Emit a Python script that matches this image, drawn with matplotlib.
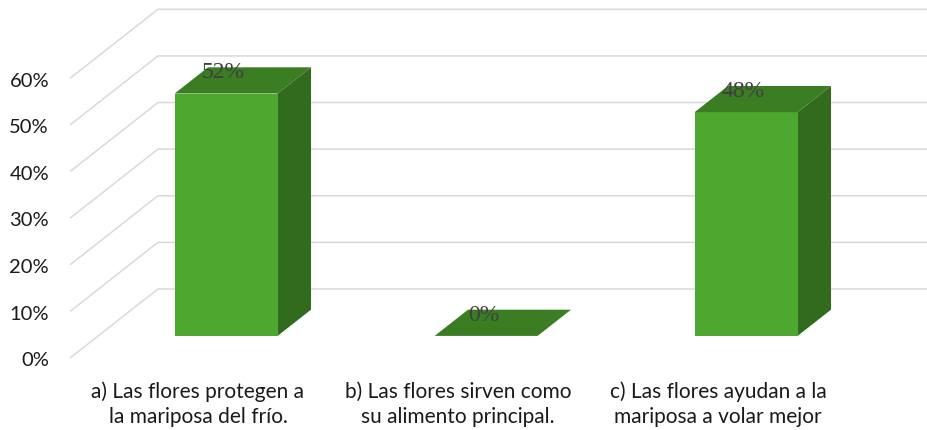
import matplotlib.pyplot as plt
from matplotlib.patches import Polygon

plt.rcParams["font.serif"] = ["Liberation Serif", "Times New Roman", "DejaVu Serif"]

categories = ["a) Las flores protegen a\nla mariposa del frío.",
              "b) Las flores sirven como\nsu alimento principal.",
              "c) Las flores ayudan a la\nmariposa a volar mejor"]
values = [52, 0, 48]
value_labels = ["52%", "0%", "48%"]
ticks = [0, 10, 20, 30, 40, 50, 60]
tick_labels = ["0%", "10%", "20%", "30%", "40%", "50%", "60%"]

# oblique projection of the 3D box: depth d in [0, 1]
DX, DY = 0.338, 14.8
BAR_W = 0.396
D0, D1 = 0.32, 0.70
WALL_X = -0.492

FRONT = "#4ea72e"
TOP = "#3a7d22"
SIDE = "#336b1e"
GRID = "#d9d9d9"


def proj(x, v, d):
    return (x + d * DX, v + d * DY)


fig = plt.figure(figsize=(9.28, 4.3), dpi=100)
ax = fig.add_axes([0, 0, 1, 1])
ax.set_xlim(-0.7615, 2.8077)
ax.set_ylim(-15.45, 76.8)
ax.axis("off")

# gridlines: floor/left diagonal + back wall
for t, lab in zip(ticks, tick_labels):
    x0, y0 = proj(WALL_X, t, 0)
    x1, y1 = proj(WALL_X, t, 1)
    ax.plot([x0, x1, 2.9], [y0, y1, y1], color=GRID, lw=1.1, zorder=1,
            solid_capstyle="butt")
    ax.text(-0.573, t - 0.6, lab, ha="right", va="center", fontsize=14.5,
            family="Lato", color="#1a1a1a")

for i, (v, vl, cat) in enumerate(zip(values, value_labels, categories)):
    xl = i - BAR_W / 2
    xr = i + BAR_W / 2
    front = [proj(xl, 0, D0), proj(xr, 0, D0), proj(xr, v, D0), proj(xl, v, D0)]
    top = [proj(xl, v, D0), proj(xr, v, D0), proj(xr, v, D1), proj(xl, v, D1)]
    side = [proj(xr, 0, D0), proj(xr, 0, D1), proj(xr, v, D1), proj(xr, v, D0)]
    ax.add_patch(Polygon(side, closed=True, fc=SIDE, ec="none", zorder=3))
    ax.add_patch(Polygon(front, closed=True, fc=FRONT, ec="none", zorder=4))
    ax.add_patch(Polygon(top, closed=True, fc=TOP, ec="none", zorder=4))
    cx, _ = proj(i, v, D0)
    ax.text(cx - 0.01, v + 9.2, vl, ha="center", va="center", fontsize=17,
            family="serif", color="#404040", zorder=5)
    ax.text(i, -10.0, cat, ha="center", va="center", fontsize=15,
            family="Lato", color="#1a1a1a", linespacing=1.3)

fig.savefig("out.png", dpi=100)
